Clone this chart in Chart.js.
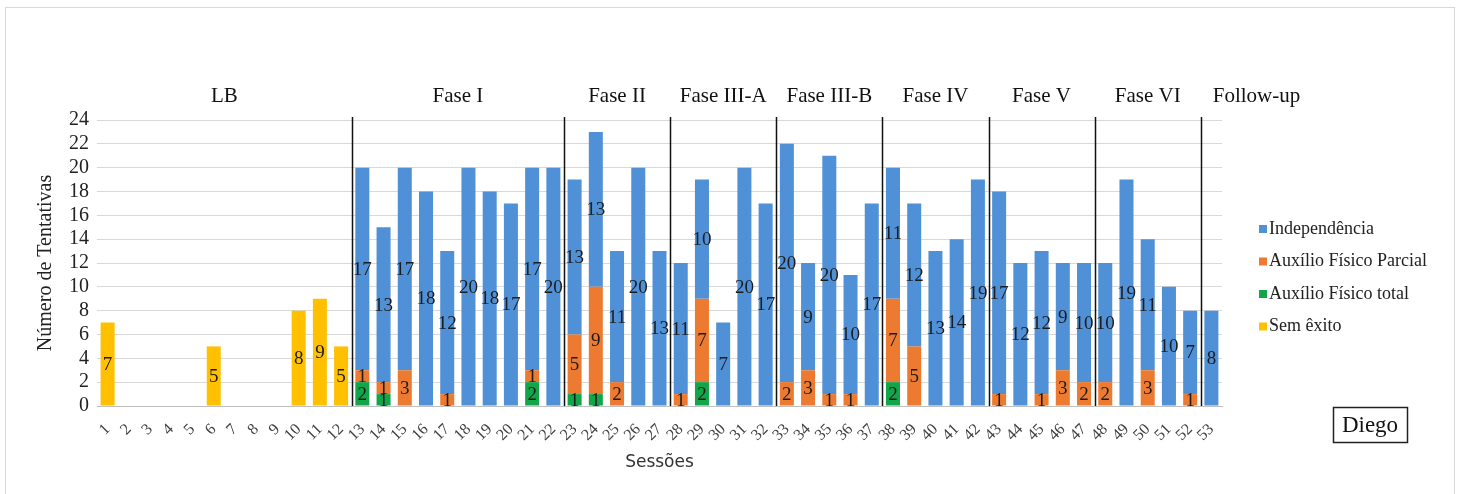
<!DOCTYPE html>
<html>
<head>
<meta charset="utf-8">
<script src="https://cdn.jsdelivr.net/npm/chart.js@4.4.1/dist/chart.umd.min.js"></script>
<style>
  body { margin: 0; background: #fff; }
</style>
</head>
<body>
<canvas id="diegoChart" width="1460" height="494"></canvas>
<script>
// sessions 1..53
var sessoes = [];
for (var i = 1; i <= 53; i++) sessoes.push(String(i));

// values, one per session (null = no bar)
var semExito = [7, null, null, null, null, 5, null, null, null, 8, 9, 5,
  null, null, null, null, null, null, null, null, null, null,
  null, null, null, null, null, null, null, null, null, null,
  null, null, null, null, null, null, null, null, null, null,
  null, null, null, null, null, null, null, null, null, null, null];

var auxTotal = [null, null, null, null, null, null, null, null, null, null, null, null,
  2, 1, null, null, null, null, null, null, 2, null,
  1, 1, null, null, null,
  null, 2, null, null, null,
  null, null, null, null, null,
  2, null, null, null, null,
  null, null, null, null, null,
  null, null, null, null, null,
  null];

var auxParcial = [null, null, null, null, null, null, null, null, null, null, null, null,
  1, 1, 3, null, 1, null, null, null, 1, null,
  5, 9, 2, null, null,
  1, 7, null, null, null,
  2, 3, 1, 1, null,
  7, 5, null, null, null,
  1, null, 1, 3, 2,
  2, null, 3, null, 1,
  null];

var independencia = [null, null, null, null, null, null, null, null, null, null, null, null,
  17, 13, 17, 18, 12, 20, 18, 17, 17, 20,
  13, 13, 11, 20, 13,
  11, 10, 7, 20, 17,
  20, 9, 20, 10, 17,
  11, 12, 13, 14, 19,
  17, 12, 12, 9, 10,
  10, 19, 11, 10, 7,
  8];

// phases: name and first session of each
var fases = ["LB", "Fase I", "Fase II", "Fase III-A", "Fase III-B", "Fase IV", "Fase V", "Fase VI", "Follow-up"];
var faseInicio = [1, 13, 23, 28, 33, 38, 43, 48, 53];

var serif = "'Liberation Serif', 'Times New Roman', serif";

//plugin for the extra bits Excel draws: phase lines/labels, data labels, legend, name box
var extras = {
  id: 'extras',
  afterDatasetsDraw: function(chart) {
    var ctx = chart.ctx;
    var area = chart.chartArea;
    var x = chart.scales.x;

    // data labels in the middle of each segment
    ctx.save();
    ctx.font = '19px ' + serif;
    ctx.fillStyle = '#1c1c1c';
    ctx.textAlign = 'center';
    ctx.textBaseline = 'middle';
    chart.data.datasets.forEach(function(ds, di) {
      var meta = chart.getDatasetMeta(di);
      meta.data.forEach(function(bar, j) {
        var v = ds.data[j];
        if (!v) return;
        var c = bar.getCenterPoint();
        ctx.fillText(String(v), c.x, c.y + 1);
      });
    });
    ctx.restore();

    // phase separators + phase names
    ctx.save();
    ctx.strokeStyle = '#111';
    ctx.lineWidth = 1.5;
    ctx.font = '21px ' + serif;
    ctx.fillStyle = '#111';
    ctx.textBaseline = 'middle';
    for (var f = 0; f < fases.length; f++) {
      var startIdx = faseInicio[f] - 1;
      var endIdx = (f + 1 < fases.length ? faseInicio[f + 1] : sessoes.length + 1) - 1;
      var left = startIdx === 0 ? area.left : (x.getPixelForValue(startIdx - 1) + x.getPixelForValue(startIdx)) / 2;
      var right = endIdx >= sessoes.length ? area.right : (x.getPixelForValue(endIdx - 1) + x.getPixelForValue(endIdx)) / 2;
      if (f > 0) {
        ctx.beginPath();
        ctx.moveTo(Math.round(left) + 0.5, area.top - 3);
        ctx.lineTo(Math.round(left) + 0.5, area.bottom);
        ctx.stroke();
      }
      if (f === fases.length - 1) {
        ctx.textAlign = 'left';
        ctx.fillText(fases[f], left + 12, 96);
      } else {
        ctx.textAlign = 'center';
        ctx.fillText(fases[f], (left + right) / 2, 96);
      }
    }
    ctx.restore();

    // legend (Excel order)
    var legendOrder = [2, 1, 0, 3];
    ctx.save();
    ctx.font = '18px ' + serif;
    ctx.textAlign = 'left';
    ctx.textBaseline = 'middle';
    legendOrder.forEach(function(di, k) {
      var ds = chart.data.datasets[di];
      var y = 229 + k * 32.5;
      ctx.fillStyle = ds.backgroundColor;
      ctx.fillRect(1259, y - 4, 8, 8);
      ctx.fillStyle = '#222';
      ctx.fillText(ds.label, 1269, y);
    });
    ctx.restore();

    // name box
    ctx.save();
    ctx.strokeStyle = '#222';
    ctx.lineWidth = 1.5;
    ctx.strokeRect(1333.5, 407.5, 74, 35);
    ctx.font = '23px ' + serif;
    ctx.fillStyle = '#111';
    ctx.textAlign = 'center';
    ctx.textBaseline = 'middle';
    ctx.fillText('Diego', 1370, 426);
    ctx.restore();

    // outer frame
    ctx.save();
    ctx.strokeStyle = '#d9d9d9';
    ctx.lineWidth = 1;
    ctx.strokeRect(5.5, 7.5, 1449, 500);
    ctx.restore();
  }
};

var ctxDiego = document.getElementById('diegoChart').getContext('2d');
var diegoChart = new Chart(ctxDiego, {
  type: 'bar',
  data: {
    labels: sessoes,
    datasets: [
      { label: 'Auxílio Físico total', data: auxTotal, backgroundColor: '#12a54a' },
      { label: 'Auxílio Físico Parcial', data: auxParcial, backgroundColor: '#ec7b31' },
      { label: 'Independência', data: independencia, backgroundColor: '#4f90d6' },
      { label: 'Sem êxito', data: semExito, backgroundColor: '#ffc000' }
    ]
  },
  options: {
    responsive: false,
    animation: false,
    layout: { padding: { left: 30, top: 120, right: 238, bottom: 17 } },
    datasets: { bar: { categoryPercentage: 1, barPercentage: 0.66 } },
    plugins: {
      legend: { display: false },
      tooltip: { enabled: false }
    },
    scales: {
      x: {
        stacked: true,
        grid: { display: false },
        border: { color: '#bfbfbf' },
        ticks: {
          autoSkip: false, minRotation: 45, maxRotation: 45, padding: 6,
          color: '#404040', font: { family: serif, size: 16 }
        },
        title: {
          display: true, text: 'Sessões', color: '#333',
          font: { family: "'DejaVu Sans', sans-serif", size: 17 }
        },
        afterFit: function(scale) { scale.height = 71; }
      },
      y: {
        stacked: true,
        min: 0, max: 24,
        grid: { color: '#d9d9d9', drawTicks: false },
        border: { display: false },
        ticks: {
          stepSize: 2, autoSkip: false, padding: 8,
          color: '#222', font: { family: serif, size: 20 }
        },
        title: {
          display: true, text: 'Número de Tentativas', color: '#222',
          padding: { top: 4, bottom: 0 },
          font: { family: serif, size: 20 }
        },
        afterFit: function(scale) { scale.width = 67; }
      }
    }
  },
  plugins: [extras]
}); //end diegoChart
</script>
</body>
</html>
